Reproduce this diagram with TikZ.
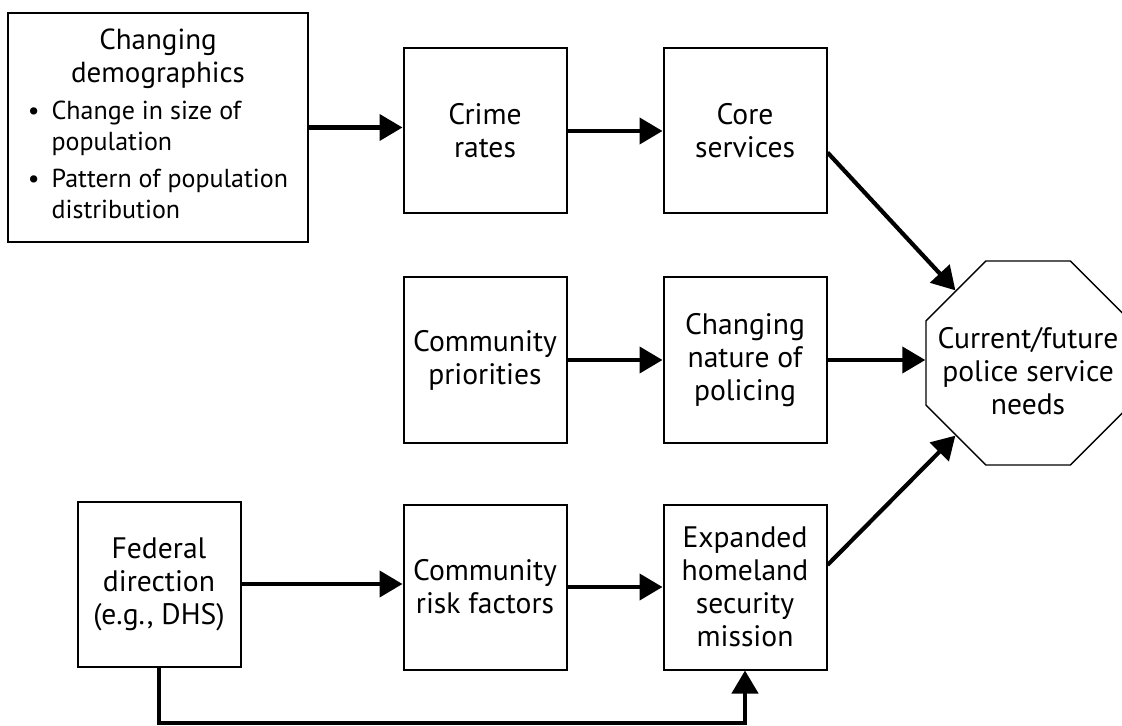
\documentclass[tikz,border=0pt]{standalone}
\usepackage{fontspec}
\setmainfont{PT Sans}
\usetikzlibrary{arrows.meta,shapes.geometric}

\newcommand{\headfont}{\fontsize{14.5}{15.5}\selectfont}

\begin{document}
\begin{tikzpicture}[x=0.5pt, y=-0.5pt, node distance=130pt,
  font=\fontsize{14.8}{16.5}\selectfont,
  block/.style={draw, line width=1pt, minimum width=81.5pt, minimum height=82.5pt, align=center, inner sep=2pt},
  octa/.style={draw, regular polygon, regular polygon sides=8, minimum size=110.4pt, inner sep=0pt, line width=0.7pt},
  arrow/.style={-{Triangle[length=11.5pt, width=13pt]}, line width=2.1pt}]

  \fill[white] (0,0) rectangle (1122,726);
  \useasboundingbox (0,0) rectangle (1122,726);

  % First row
  \node[block, minimum width=150pt, minimum height=114.5pt, font=\fontsize{13}{15.5}\selectfont] (demo) at (158,127.5) {%
    \begin{tabular}{@{}l@{\hspace{6pt}}l@{}}
      \multicolumn{2}{c}{\headfont Changing}\\[1pt]
      \multicolumn{2}{c}{\headfont demographics}\\[3pt]
      \textbullet & Change in size of\\
                  & population\\[3pt]
      \textbullet & Pattern of population\\
                  & distribution
    \end{tabular}};
  \node[block] (crime) at (485,131) {Crime\\rates};
  \node[block, right of=crime] (core) {Core\\services};

  % Second row
  \node[block, below of=crime, node distance=114.5pt] (prio) {Community\\priorities};
  \node[block, right of=prio] (nature) {Changing\\nature of\\policing};

  % Third row
  \node[block, below of=prio, node distance=113.5pt] (risk) {Community\\risk factors};
  \node[block, right of=risk] (mission) {Expanded\\homeland\\security\\mission};
  \node[block] (federal) at (159,584) {Federal\\direction\\(e.g., DHS)};

  % Needs
  \node[octa, label={[align=center, yshift=-4pt]center:Current/future\\police service\\needs}] (needs) at (1028,363) {};

  % Horizontal arrows
  \draw[arrow] (demo.east) -- (demo.east -| crime.west);
  \draw[arrow] (crime.east) -- (crime.east -| core.west);
  \draw[arrow] (prio.east) -- (nature.west);
  \draw[arrow] (nature.east) -- (nature.east -| needs.west);
  \draw[arrow] (federal.east) -- (federal.east -| risk.west);
  \draw[arrow] (risk.east) -- (mission.west);

  % diagonal to needs
  \draw[arrow] ([yshift=-10.75pt]core.east) -- (needs.135);
  \draw[arrow] ([yshift=11pt]mission.east) -- (needs.225);

  % loop under the bottom row
  \coordinate (floor) at (0,723);
  \draw[arrow] (federal.south) -- (federal.south |- floor) -| (mission.south);

\end{tikzpicture}
\end{document}
